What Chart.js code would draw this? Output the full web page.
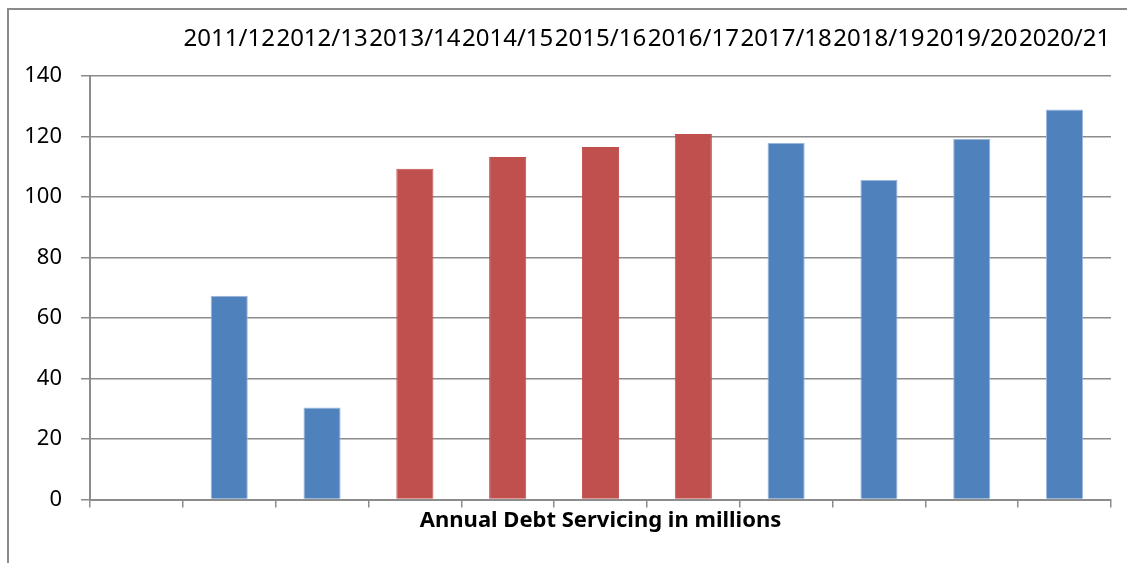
<!DOCTYPE html>
<html>
<head>
<meta charset="utf-8">
<script src="https://cdn.jsdelivr.net/npm/chart.js@4"></script>
<style>
  body { margin: 0; background: #fff; overflow: hidden; }
  #frame { position: absolute; left: 7px; top: 8px; width: 1130px; height: 570px; border: 2px solid #8a8a8a; box-sizing: border-box; }
  #wrap { position: absolute; left: 0; top: 0; width: 1127px; height: 563px; }
</style>
</head>
<body>
<div id="frame"></div>
<div id="wrap"><canvas id="chartDebt"></canvas></div>
<script>
// first slot on the axis is empty in the original
const periods = ['2011/12', '2012/13', '2013/14', '2014/15', '2015/16', '2016/17', '2017/18', '2018/19', '2019/20', '2020/21']
const categories = [''].concat(periods)
const debtServicing = [null, 67.3, 30.4, 109.3, 113.2, 116.5, 120.8, 117.8, 105.6, 119.2, 128.9]
const yTicks = [0, 20, 40, 60, 80, 100, 120, 140]

const blue = '#4f81bd'
const red = '#c0504d'
const barColors = [blue, blue, blue, red, red, red, red, blue, blue, blue, blue]
const barBorders = barColors.map(c => c === blue ? '#9bb7dc' : red)
const gridGrey = '#8c8c8c'

new Chart(document.getElementById('chartDebt'), {
  type: 'bar',
  data: {
    labels: categories,
    datasets: [{
      data: debtServicing,
      backgroundColor: barColors,
      borderColor: barBorders,
      borderWidth: 1,
      barPercentage: 0.4,
      categoryPercentage: 1.0
    }]
  },
  options: {
    responsive: true,
    maintainAspectRatio: false,
    animation: false,
    layout: { padding: { left: 0, right: 16, top: 25, bottom: 0 } },
    plugins: { legend: { display: false }, tooltip: { enabled: false } },
    scales: {
      x: {
        position: 'bottom',
        grid: { offset: true, drawOnChartArea: false, drawTicks: true, tickLength: 8, color: gridGrey, lineWidth: 1.5 },
        border: { display: true, color: gridGrey, width: 2 },
        ticks: { display: false },
        title: {
          display: true,
          text: 'Annual Debt Servicing in millions',
          color: '#000',
          font: { family: 'Noto Sans', size: 22, weight: 'bold' },
          padding: { top: 0, bottom: 29 }
        }
      },
      x2: {
        type: 'category',
        position: 'top',
        labels: categories,
        offset: true,
        // invisible tick marks just hold the gap between labels and plot
        grid: { display: true, drawOnChartArea: false, drawTicks: true, tickLength: 22, color: 'rgba(0,0,0,0)' },
        border: { display: false },
        ticks: { color: '#000', padding: 0, maxRotation: 0, autoSkip: false, font: { family: 'Noto Sans', size: 24 } }
      },
      y: {
        min: 0,
        max: 140,
        afterBuildTicks: (axis) => { axis.ticks = yTicks.map(v => ({ value: v })) },
        afterFit: (axis) => { axis.width = 90 },
        grid: { color: gridGrey, lineWidth: 1.5, tickLength: 9 },
        border: { display: true, color: gridGrey, width: 2 },
        ticks: { color: '#000', padding: 19, font: { family: 'Noto Sans', size: 22 } }
      }
    }
  }
});
</script>
</body>
</html>
